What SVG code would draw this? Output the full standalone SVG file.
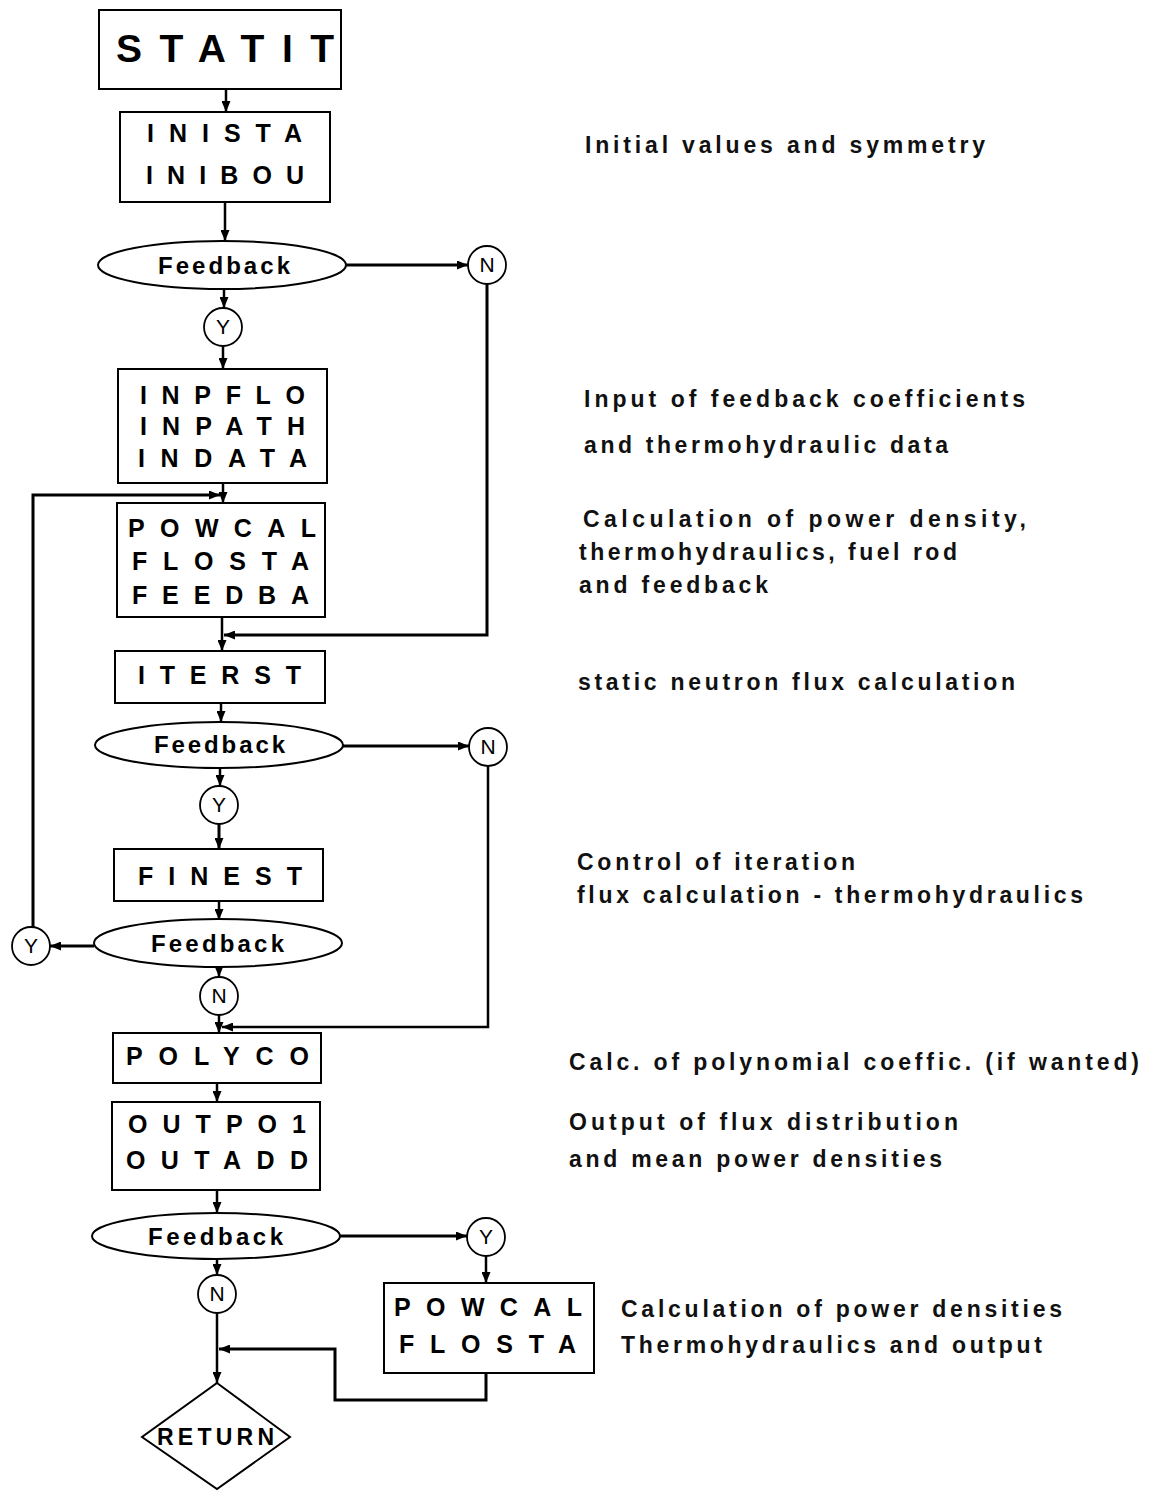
<svg xmlns="http://www.w3.org/2000/svg" width="1154" height="1491" viewBox="0 0 1154 1491">
<style>
.box{fill:#fff;stroke:#000;stroke-width:2}
.term{fill:#fff;stroke:#000;stroke-width:2}
.circ{fill:#fff;stroke:#000;stroke-width:1.8}
.lbl{font-family:"Liberation Sans",Arial,sans-serif;font-weight:bold;font-size:25px;fill:#000}
.big{font-family:"Liberation Sans",Arial,sans-serif;font-weight:bold;font-size:39px;fill:#000}
.fb{font-family:"Liberation Sans",Arial,sans-serif;font-weight:bold;font-size:24px;fill:#000}
.yn{font-family:"Liberation Sans",Arial,sans-serif;font-size:21px;fill:#000;text-anchor:middle}
.ret{font-family:"Liberation Sans",Arial,sans-serif;font-weight:bold;font-size:23px;fill:#000}
.note{font-family:"Liberation Sans",Arial,sans-serif;font-weight:bold;font-size:23px;fill:#111}
.c{fill:none;stroke:#000;stroke-width:2.5}
.t{fill:none;stroke:#000;stroke-width:3}
</style>
<defs>
<marker id="ah" markerUnits="userSpaceOnUse" markerWidth="11" markerHeight="9" refX="11" refY="4.5" orient="auto">
<path d="M0,0 L11,4.5 L0,9 z" fill="#000"/>
</marker>
</defs>
<rect width="1154" height="1491" fill="#fff"/>

<g id="connectors">
<line class="c" x1="226" y1="89" x2="226" y2="112" marker-end="url(#ah)"/>
<line class="c" x1="225" y1="202" x2="225" y2="241" marker-end="url(#ah)"/>
<line class="t" x1="346" y1="265" x2="468" y2="265" marker-end="url(#ah)"/>
<line class="c" x1="224" y1="289" x2="224" y2="308" marker-end="url(#ah)"/>
<line class="c" x1="223" y1="346" x2="223" y2="369" marker-end="url(#ah)"/>
<line class="c" x1="223" y1="483" x2="223" y2="503" marker-end="url(#ah)"/>
<polyline class="t" points="33,927 33,495 220,495" marker-end="url(#ah)"/>
<line class="c" x1="222" y1="617" x2="222" y2="651" marker-end="url(#ah)"/>
<polyline class="t" points="487,284 487,635 224,635" marker-end="url(#ah)"/>
<line class="c" x1="221" y1="703" x2="221" y2="722" marker-end="url(#ah)"/>
<line class="t" x1="343" y1="746" x2="469" y2="746" marker-end="url(#ah)"/>
<line class="c" x1="220" y1="768" x2="220" y2="786" marker-end="url(#ah)"/>
<line class="t" x1="219" y1="824" x2="219" y2="849" marker-end="url(#ah)"/>
<line class="c" x1="219" y1="901" x2="219" y2="920" marker-end="url(#ah)"/>
<line class="t" x1="94" y1="946" x2="50" y2="946" marker-end="url(#ah)"/>
<line class="c" x1="219" y1="967" x2="219" y2="977" marker-end="url(#ah)"/>
<line class="c" x1="219" y1="1015" x2="219" y2="1033" marker-end="url(#ah)"/>
<polyline class="c" points="488,766 488,1027 222,1027" marker-end="url(#ah)"/>
<line class="c" x1="217" y1="1083" x2="217" y2="1102" marker-end="url(#ah)"/>
<line class="c" x1="217" y1="1190" x2="217" y2="1213" marker-end="url(#ah)"/>
<line class="t" x1="340" y1="1236" x2="467" y2="1236" marker-end="url(#ah)"/>
<line class="c" x1="486" y1="1256" x2="486" y2="1283" marker-end="url(#ah)"/>
<line class="c" x1="217" y1="1259" x2="217" y2="1275" marker-end="url(#ah)"/>
<line class="c" x1="217" y1="1313" x2="217" y2="1383" marker-end="url(#ah)"/>
<polyline class="t" points="486,1373 486,1400 335,1400 335,1349 219,1349" marker-end="url(#ah)"/>
</g>

<g id="statit">
<rect class="box" x="99" y="10" width="242" height="79"/>
<text class="big" x="116" y="62" textLength="218" lengthAdjust="spacing">STATIT</text>
</g>
<g id="inista">
<rect class="box" x="120" y="112" width="210" height="90"/>
<text class="lbl" x="147" y="142" textLength="155" lengthAdjust="spacing">INISTA</text>
<text class="lbl" x="146" y="184" textLength="158" lengthAdjust="spacing">INIBOU</text>
</g>
<g id="feedback1">
<ellipse class="term" cx="222" cy="265" rx="124" ry="24"/>
<text class="fb" x="158" y="274" textLength="132" lengthAdjust="spacing">Feedback</text>
</g>
<g id="n1"><circle class="circ" cx="487" cy="265" r="19"/><text class="yn" x="487" y="272">N</text></g>
<g id="y1"><circle class="circ" cx="223" cy="327" r="19"/><text class="yn" x="223" y="334">Y</text></g>
<g id="inpflo">
<rect class="box" x="118" y="369" width="209" height="114"/>
<text class="lbl" x="140" y="404" textLength="165" lengthAdjust="spacing">INPFLO</text>
<text class="lbl" x="140" y="435" textLength="165" lengthAdjust="spacing">INPATH</text>
<text class="lbl" x="138" y="467" textLength="169" lengthAdjust="spacing">INDATA</text>
</g>
<g id="powcal">
<rect class="box" x="117" y="503" width="208" height="114"/>
<text class="lbl" x="128" y="537" textLength="188" lengthAdjust="spacing">POWCAL</text>
<text class="lbl" x="132" y="570" textLength="177" lengthAdjust="spacing">FLOSTA</text>
<text class="lbl" x="132" y="604" textLength="177" lengthAdjust="spacing">FEEDBA</text>
</g>
<g id="iterst">
<rect class="box" x="115" y="651" width="210" height="52"/>
<text class="lbl" x="138" y="684" textLength="163" lengthAdjust="spacing">ITERST</text>
</g>
<g id="feedback2">
<ellipse class="term" cx="219" cy="745" rx="124" ry="23"/>
<text class="fb" x="154" y="753" textLength="131" lengthAdjust="spacing">Feedback</text>
</g>
<g id="n2"><circle class="circ" cx="488" cy="747" r="19"/><text class="yn" x="488" y="754">N</text></g>
<g id="y2"><circle class="circ" cx="219" cy="805" r="19"/><text class="yn" x="219" y="812">Y</text></g>
<g id="finest">
<rect class="box" x="114" y="849" width="209" height="52"/>
<text class="lbl" x="138" y="885" textLength="164" lengthAdjust="spacing">FINEST</text>
</g>
<g id="feedback3">
<ellipse class="term" cx="218" cy="943" rx="124" ry="24"/>
<text class="fb" x="151" y="952" textLength="133" lengthAdjust="spacing">Feedback</text>
</g>
<g id="y3"><circle class="circ" cx="31" cy="946" r="19"/><text class="yn" x="31" y="953">Y</text></g>
<g id="n3"><circle class="circ" cx="219" cy="996" r="19"/><text class="yn" x="219" y="1003">N</text></g>
<g id="polyco">
<rect class="box" x="113" y="1033" width="208" height="50"/>
<text class="lbl" x="126" y="1065" textLength="183" lengthAdjust="spacing">POLYCO</text>
</g>
<g id="outpo1">
<rect class="box" x="112" y="1102" width="208" height="88"/>
<text class="lbl" x="128" y="1133" textLength="178" lengthAdjust="spacing">OUTPO1</text>
<text class="lbl" x="126" y="1169" textLength="182" lengthAdjust="spacing">OUTADD</text>
</g>
<g id="feedback4">
<ellipse class="term" cx="216" cy="1236" rx="124" ry="23"/>
<text class="fb" x="148" y="1245" textLength="135" lengthAdjust="spacing">Feedback</text>
</g>
<g id="y4"><circle class="circ" cx="486" cy="1237" r="19"/><text class="yn" x="486" y="1244">Y</text></g>
<g id="n4"><circle class="circ" cx="217" cy="1294" r="19"/><text class="yn" x="217" y="1301">N</text></g>
<g id="powcal2">
<rect class="box" x="384" y="1283" width="210" height="90"/>
<text class="lbl" x="394" y="1316" textLength="188" lengthAdjust="spacing">POWCAL</text>
<text class="lbl" x="399" y="1353" textLength="177" lengthAdjust="spacing">FLOSTA</text>
</g>
<g id="return">
<polygon class="term" points="217,1383 290,1437 217,1489 142,1437"/>
<text class="ret" x="157" y="1445" textLength="117" lengthAdjust="spacing">RETURN</text>
</g>

<g id="notes">
<text class="note" x="585" y="153" textLength="400" lengthAdjust="spacing">Initial values and symmetry</text>
<text class="note" x="584" y="407" textLength="441" lengthAdjust="spacing">Input of feedback coefficients</text>
<text class="note" x="584" y="453" textLength="364" lengthAdjust="spacing">and thermohydraulic data</text>
<text class="note" x="583" y="527" textLength="443" lengthAdjust="spacing">Calculation of power density,</text>
<text class="note" x="579" y="560" textLength="378" lengthAdjust="spacing">thermohydraulics, fuel rod</text>
<text class="note" x="579" y="593" textLength="189" lengthAdjust="spacing">and feedback</text>
<text class="note" x="578" y="690" textLength="437" lengthAdjust="spacing">static neutron flux calculation</text>
<text class="note" x="577" y="870" textLength="278" lengthAdjust="spacing">Control of iteration</text>
<text class="note" x="577" y="903" textLength="506" lengthAdjust="spacing">flux calculation - thermohydraulics</text>
<text class="note" x="569" y="1070" textLength="570" lengthAdjust="spacing">Calc. of polynomial coeffic. (if wanted)</text>
<text class="note" x="569" y="1130" textLength="389" lengthAdjust="spacing">Output of flux distribution</text>
<text class="note" x="569" y="1167" textLength="373" lengthAdjust="spacing">and mean power densities</text>
<text class="note" x="621" y="1317" textLength="441" lengthAdjust="spacing">Calculation of power densities</text>
<text class="note" x="621" y="1353" textLength="421" lengthAdjust="spacing">Thermohydraulics and output</text>
</g>
</svg>
